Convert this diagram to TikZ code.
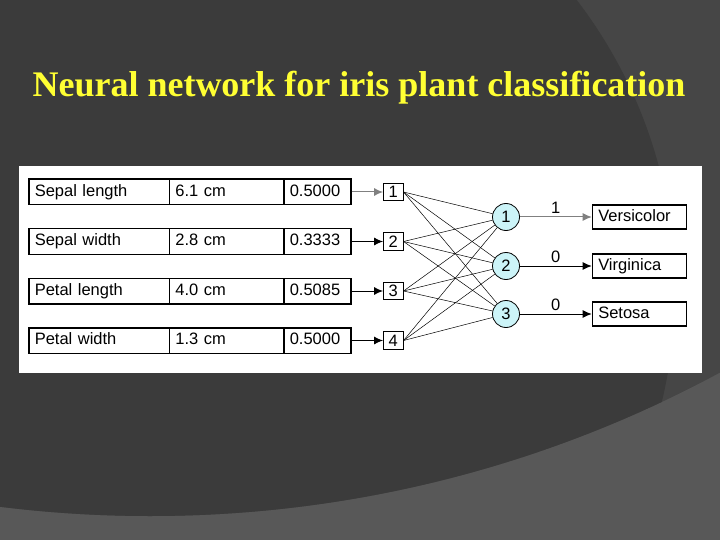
\documentclass[tikz,border=0pt]{standalone}
\usepackage{fontspec}
\setmainfont{Liberation Sans}
\newfontfamily\titlefont{Liberation Serif}
\usepackage{tikz}
\usetikzlibrary{arrows.meta}
\definecolor{bgdark}{RGB}{59,59,59}
\definecolor{bgmid}{RGB}{70,70,70}
\definecolor{bglight}{RGB}{88,88,88}
\definecolor{titleyellow}{RGB}{255,255,51}
\definecolor{neuroncyan}{RGB}{204,244,248}

\begin{document}
\begin{tikzpicture}
		[x=1pt,y=-1pt,every node/.style={font=\fontsize{16.5}{18}\selectfont},
		cell/.style={draw,line width=1.5pt,anchor=west,minimum height=25.5pt,inner xsep=6pt,inner ysep=0pt,text height=12pt,text depth=3.5pt,align=left},
		inp/.style={draw,line width=1pt,minimum width=19.5pt,minimum height=17.5pt,inner sep=0pt},
		neuron/.style={circle,draw,line width=0.8pt,fill=neuroncyan,minimum size=27pt,inner sep=0pt},
		cls/.style={draw,line width=1.1pt,anchor=west,minimum height=24pt,inner xsep=6pt,inner ysep=0pt,text width=82pt,text height=12pt,text depth=3.5pt,align=left},
		edge/.style={-{Latex[length=9pt,width=8pt]},line width=1pt},
		link/.style={line width=0.5pt}]
		% background
		\useasboundingbox (0,0) rectangle (720,540);
		\begin{scope}
		\clip (0,0) rectangle (720,540);
		\fill[bglight] (0,0) rectangle (720,540);
		\clip (150,-686) circle (1202pt);
		\fill[bgmid] (150,-686) circle (1202pt);
		\fill[bgdark] (198,290) circle (477pt);
		\end{scope}
		\node[anchor=base,text=titleyellow,font=\titlefont\bfseries\fontsize{36}{40}\selectfont] (title) at (359,97) {Neural network for iris plant classification};
		\fill[white] (19,166) rectangle (702,373);
		
		% table
		\node[cell,text width=128.7pt] (f1) at (28,192) {Sepal length};
		\node[cell,text width=102.3pt] (v1) at (168.7,192) {6.1 cm};
		\node[cell,text width=55pt] (s1) at (283,192) {0.5000};
		\node[cell,text width=128.7pt] (f2) at (28,241.5) {Sepal width};
		\node[cell,text width=102.3pt] (v2) at (168.7,241.5) {2.8 cm};
		\node[cell,text width=55pt] (s2) at (283,241.5) {0.3333};
		\node[cell,text width=128.7pt] (f3) at (28,291) {Petal length};
		\node[cell,text width=102.3pt] (v3) at (168.7,291) {4.0 cm};
		\node[cell,text width=55pt] (s3) at (283,291) {0.5085};
		\node[cell,text width=128.7pt] (f4) at (28,340.5) {Petal width};
		\node[cell,text width=102.3pt] (v4) at (168.7,340.5) {1.3 cm};
		\node[cell,text width=55pt] (s4) at (283,340.5) {0.5000};
		
		% network
		\node[inp] (i1) at (393.3,192) {1};
		\node[inp] (i2) at (393.3,241.5) {2};
		\node[inp] (i3) at (393.3,291) {3};
		\node[inp] (i4) at (393.3,340.5) {4};
		\node[neuron] (o1) at (506,217) {1};
		\node[neuron] (o2) at (506,266) {2};
		\node[neuron] (o3) at (506,314) {3};
		\node[cls] (c1) at (591.7,217) {Versicolor};
		\node[cls] (c2) at (591.7,266) {Virginica};
		\node[cls] (c3) at (591.7,314) {Setosa};
		
		\draw[edge,gray] (s1) -- (i1);
		\foreach \from/\to in {s2/i2,s3/i3,s4/i4}
		\draw[edge] (\from) -- (\to);
		\foreach \from in {i1,i2,i3,i4}
		\foreach \to in {o1,o2,o3}
		\draw[link] (\from.east) -- (\to);
		\draw[edge,gray] (o1) -- node[above,text=black] (w1) {1} (c1);
		\draw[edge] (o2) -- node[above] (w2) {0} (c2);
		\draw[edge] (o3) -- node[above] (w3) {0} (c3);
		\end{tikzpicture}
\end{document}
